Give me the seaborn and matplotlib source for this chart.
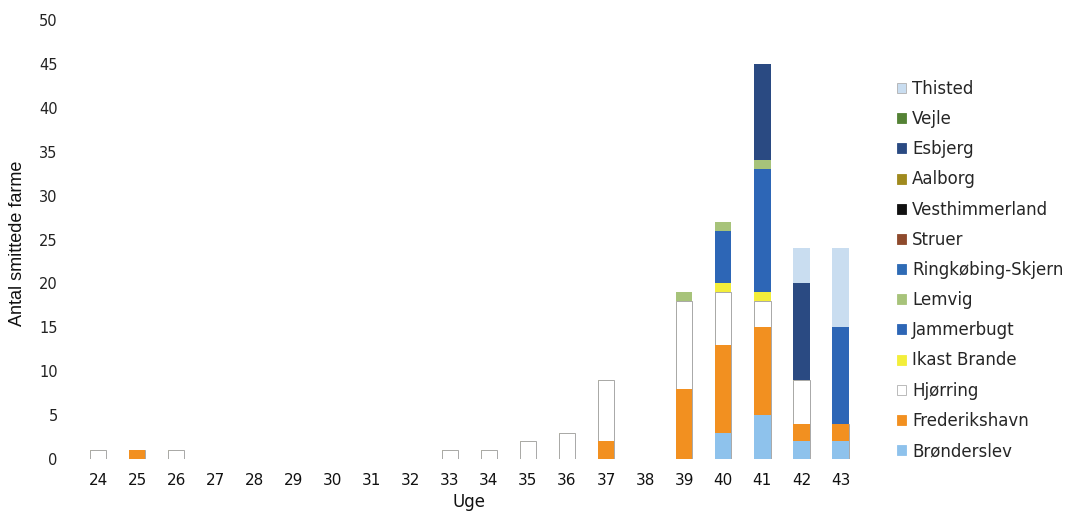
import numpy as np
import pandas as pd
import matplotlib
matplotlib.use("Agg")
import matplotlib.pyplot as plt
from matplotlib.patches import Patch
import seaborn as sns

# Weekly counts of infected mink farms per municipality
weeks = list(range(24, 44))

# Stack order, bottom to top
municipalities = [
    "Brønderslev", "Frederikshavn", "Hjørring", "Ikast Brande", "Jammerbugt",
    "Lemvig", "Ringkøbing-Skjern", "Struer", "Vesthimmerland", "Aalborg",
    "Esbjerg", "Vejle", "Thisted",
]

#                 24 25 26 27 28 29 30 31 32 33 34 35 36 37 38 39  40  41  42  43
bronderslev    = [0, 0, 0, 0, 0, 0, 0, 0, 0, 0, 0, 0, 0, 0, 0, 0,  3,  5,  2,  2]
frederikshavn  = [0, 1, 0, 0, 0, 0, 0, 0, 0, 0, 0, 0, 0, 2, 0, 8, 10, 10,  2,  2]
hjorring       = [1, 0, 1, 0, 0, 0, 0, 0, 0, 1, 1, 2, 3, 7, 0, 10, 6,  3,  5,  0]
ikast_brande   = [0, 0, 0, 0, 0, 0, 0, 0, 0, 0, 0, 0, 0, 0, 0, 0,  1,  1,  0,  0]
jammerbugt     = [0, 0, 0, 0, 0, 0, 0, 0, 0, 0, 0, 0, 0, 0, 0, 0,  6, 14,  0, 11]
lemvig         = [0, 0, 0, 0, 0, 0, 0, 0, 0, 0, 0, 0, 0, 0, 0, 1,  1,  1,  0,  0]
ringkobing     = [0] * 20
struer         = [0] * 20
vesthimmerland = [0] * 20
aalborg        = [0] * 20
esbjerg        = [0, 0, 0, 0, 0, 0, 0, 0, 0, 0, 0, 0, 0, 0, 0, 0,  0, 11, 11,  0]
vejle          = [0] * 20
thisted        = [0, 0, 0, 0, 0, 0, 0, 0, 0, 0, 0, 0, 0, 0, 0, 0,  0,  0,  4,  9]

series = [
    bronderslev, frederikshavn, hjorring, ikast_brande, jammerbugt,
    lemvig, ringkobing, struer, vesthimmerland, aalborg,
    esbjerg, vejle, thisted,
]

colors = {
    "Brønderslev": "#8ec2ec",
    "Frederikshavn": "#f29020",
    "Hjørring": "#ffffff",
    "Ikast Brande": "#f3ee3a",
    "Jammerbugt": "#2d66b6",
    "Lemvig": "#a7c37a",
    "Ringkøbing-Skjern": "#2e6bb5",
    "Struer": "#8e4a2c",
    "Vesthimmerland": "#111111",
    "Aalborg": "#a08a1e",
    "Esbjerg": "#2a4a82",
    "Vejle": "#548235",
    "Thisted": "#c9ddf0",
}

sns.set_style("white")
plt.rcParams["font.family"] = ["DejaVu Sans"]

fig = plt.figure(figsize=(10.67, 5.15), dpi=100)
ax = fig.add_axes([78.5 / 1067, 56 / 515, (860 - 78.5) / 1067, (459 - 20) / 515])

labels = [str(w) for w in weeks]
cum = np.cumsum(np.array(series, dtype=float), axis=0)

# Draw cumulative totals from the top layer down so each lower layer covers the one above
for i in range(len(municipalities) - 1, -1, -1):
    name = municipalities[i]
    df = pd.DataFrame({"Uge": labels, "Antal": cum[i]})
    edge = "#a8a8a8" if name == "Hjørring" else colors[name]
    sns.barplot(
        data=df, x="Uge", y="Antal", order=labels, color=colors[name],
        saturation=1, width=0.42, edgecolor=edge, linewidth=0.7 if name == "Hjørring" else 0,
        ax=ax,
    )

ax.set_ylim(0, 50)
ax.set_xlim(-0.5, len(weeks) - 0.5)
ax.set_yticks(range(0, 51, 5))
ax.tick_params(axis="y", length=0, pad=15, labelsize=10.5, labelcolor="#222222")
ax.tick_params(axis="x", length=0, pad=10, labelsize=11, labelcolor="#111111")
for s in ax.spines.values():
    s.set_visible(False)
ax.set_xlabel("Uge", fontsize=12, labelpad=4, color="#111111")
ax.set_ylabel("")

fig.text(18 / 1067, 1 - 243 / 515, "Antal smittede farme", rotation=90,
         ha="center", va="center", fontsize=13, color="#111111",
         family=["Liberation Sans Narrow", "Liberation Sans", "DejaVu Sans"])

handles = []
for name in reversed(municipalities):
    edge = "#b0b0b0" if name in ("Hjørring", "Thisted") else colors[name]
    handles.append(Patch(facecolor=colors[name], edgecolor=edge, linewidth=0.6, label=name))

fig.legend(
    handles=handles, loc="upper left", bbox_to_anchor=(897 / 1067, 1 - 80 / 515),
    bbox_transform=fig.transFigure, frameon=False, fontsize=12,
    handlelength=0.55, handleheight=0.55, handletextpad=0.35, labelspacing=0.73,
    borderaxespad=0, borderpad=0,
)

fig.savefig("out.png", dpi=100, facecolor="white")
